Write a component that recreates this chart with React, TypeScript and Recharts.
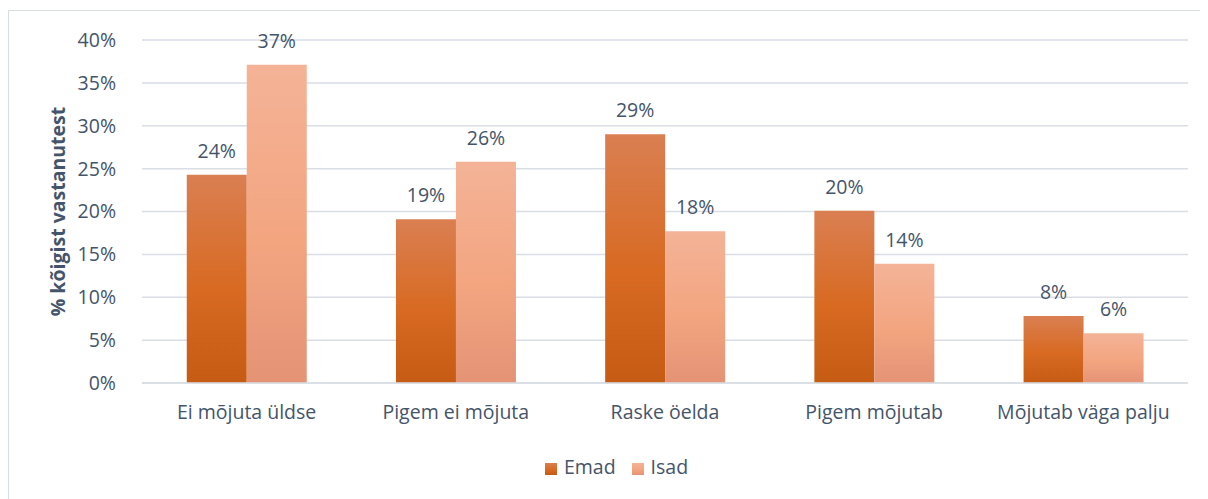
import { BarChart, Bar, XAxis, YAxis, CartesianGrid, Legend, LabelList } from 'recharts';

const categories = ['Ei mõjuta üldse', 'Pigem ei mõjuta', 'Raske öelda', 'Pigem mõjutab', 'Mõjutab väga palju'];
const emad = [24.3, 19.1, 29.0, 20.1, 7.8];
const isad = [37.1, 25.8, 17.7, 13.9, 5.8];
const yTicks = [0, 5, 10, 15, 20, 25, 30, 35, 40];

const data = categories.map((name, i) => ({ name, Emad: emad[i], Isad: isad[i] }));

const textColor = '#44546A';
const font = '"Open Sans", sans-serif';
const fs = 19.5;

export default function App() {
  return (
    <div style={{ marginTop: 2, borderTop: '1px solid #D9DEE6', borderLeft: '1px solid #D9DEE6', width: 1199, height: 488, fontFamily: font }}>
      <BarChart
        width={1199}
        height={488}
        data={data}
        margin={{ top: 29, right: 20, bottom: 19, left: 0 }}
        barCategoryGap="21.4%"
        barGap={0}
      >
        <defs>
          <linearGradient id="gEmad" x1="0" y1="0" x2="0" y2="1">
            <stop offset="0%" stopColor="#DA7F52" />
            <stop offset="55%" stopColor="#D86A22" />
            <stop offset="100%" stopColor="#C65B14" />
          </linearGradient>
          <linearGradient id="gIsad" x1="0" y1="0" x2="0" y2="1">
            <stop offset="0%" stopColor="#F4B397" />
            <stop offset="55%" stopColor="#F3A580" />
            <stop offset="100%" stopColor="#E49375" />
          </linearGradient>
        </defs>
        <CartesianGrid vertical={false} stroke="#D9DEE6" strokeWidth={1.5} />
        <XAxis
          dataKey="name"
          axisLine={{ stroke: '#D9DEE6', strokeWidth: 1.5 }}
          tickLine={false}
          tick={{ fill: textColor, fontSize: fs, fontFamily: font }}
          tickMargin={16}
          height={70}
        />
        <YAxis
          domain={[0, 40]}
          ticks={yTicks}
          tickFormatter={(v) => `${v}%`}
          axisLine={false}
          tickLine={false}
          tickMargin={20}
          width={133}
          tick={{ fill: textColor, fontSize: fs, fontFamily: font }}
          label={{ value: '% kõigist vastanutest', angle: -90, position: 'insideLeft', offset: 49, fill: textColor, fontSize: fs, fontWeight: 'bold', fontFamily: font, style: { textAnchor: 'middle' } }}
        />
        <Legend
          verticalAlign="bottom"
          iconType="square"
          iconSize={12}
          wrapperStyle={{ fontSize: fs, fontFamily: font, color: textColor, paddingLeft: 52, boxSizing: 'border-box' }}
          formatter={(value) => <span style={{ color: textColor, marginLeft: 3, marginRight: 6 }}>{value}</span>}
        />
        <Bar dataKey="Emad" fill="url(#gEmad)" isAnimationActive={false}>
          <LabelList dataKey="Emad" position="top" offset={17} formatter={(v: number) => `${Math.round(v)}%`} style={{ fill: textColor, fontSize: fs, fontFamily: font }} />
        </Bar>
        <Bar dataKey="Isad" fill="url(#gIsad)" isAnimationActive={false}>
          <LabelList dataKey="Isad" position="top" offset={17} formatter={(v: number) => `${Math.round(v)}%`} style={{ fill: textColor, fontSize: fs, fontFamily: font }} />
        </Bar>
      </BarChart>
    </div>
  );
}
